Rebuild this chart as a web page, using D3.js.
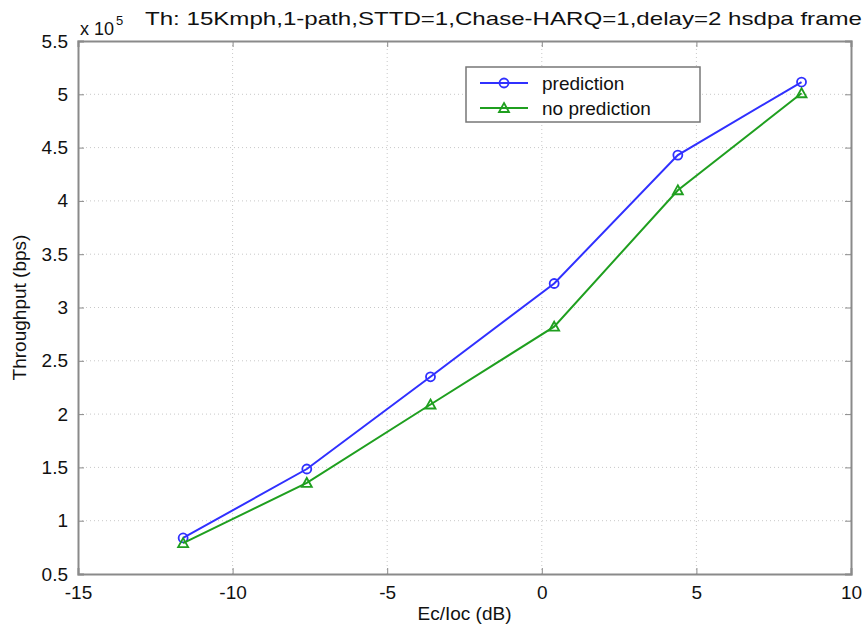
<!DOCTYPE html>
<html><head><meta charset="utf-8">
<script src="https://cdn.jsdelivr.net/npm/d3@7"></script>
<style>body{margin:0;background:#fff}svg{display:block;font-family:Arial,"Liberation Sans",sans-serif}</style>
</head><body><svg id="c" width="865" height="627"></svg>
<script>
const xValues = [-11.6, -7.6, -3.6, 0.4, 4.4, 8.4];
const prediction = [0.838, 1.485, 2.35, 3.225, 4.43, 5.115];
const noPrediction = [0.79, 1.354, 2.09, 2.82, 4.10, 5.01];
const xTicks = [-15, -10, -5, 0, 5, 10];
const yTicks = [0.5, 1, 1.5, 2, 2.5, 3, 3.5, 4, 4.5, 5, 5.5];
const seriesNames = ["prediction", "no prediction"];
const seriesColors = ["#3030ff", "#1f9f1f"];
const titleText = "Th: 15Kmph,1-path,STTD=1,Chase-HARQ=1,delay=2 hsdpa frame";

const svg = d3.select("#c");
const L = 78, R = 851, T = 41, B = 574;
const x = d3.scaleLinear().domain([-15, 10]).range([L, R]);
const y = d3.scaleLinear().domain([0.5, 5.5]).range([B, T]);

// grid
const g = svg.append("g");
g.selectAll(".gx").data(xTicks.slice(1, -1)).enter().append("line")
  .attr("x1", d => x(d)).attr("x2", d => x(d)).attr("y1", T).attr("y2", B)
  .attr("stroke", "#c8c8c8").attr("stroke-width", 1).attr("stroke-dasharray", "1,3");
g.selectAll(".gy").data(yTicks.slice(1, -1)).enter().append("line")
  .attr("y1", d => y(d)).attr("y2", d => y(d)).attr("x1", L).attr("x2", R)
  .attr("stroke", "#c8c8c8").attr("stroke-width", 1).attr("stroke-dasharray", "1,3");

// axes
const axB = d3.axisBottom(x).tickValues(xTicks).tickSize(-6).tickPadding(12).tickFormat(d => String(d));
const axL = d3.axisLeft(y).tickValues(yTicks).tickSize(-6).tickPadding(10).tickFormat(d => String(d));
const axT = d3.axisTop(x).tickValues(xTicks).tickSize(-6).tickFormat("");
const axR = d3.axisRight(y).tickValues(yTicks).tickSize(-6).tickFormat("");
function style(sel) {
  sel.selectAll("path").attr("stroke", "#8a8a8a").attr("stroke-width", 2);
  sel.selectAll("line").attr("stroke", "#8a8a8a").attr("stroke-width", 1);
  sel.selectAll("text").attr("fill", "#111").style("font-size", "19px").style("font-family", "Arial, 'Liberation Sans', sans-serif");
}
svg.append("g").attr("transform", `translate(0,${B})`).call(axB).call(style);
svg.append("g").attr("transform", `translate(${L},0)`).call(axL).call(style);
svg.append("g").attr("transform", `translate(0,${T})`).call(axT).call(style);
svg.append("g").attr("transform", `translate(${R},0)`).call(axR).call(style);

// series
const data = [prediction, noPrediction];
const line = d3.line().x((d, i) => x(xValues[i])).y(d => y(d));
data.forEach((vals, si) => {
  svg.append("path").datum(vals).attr("d", line).attr("fill", "none")
    .attr("stroke", seriesColors[si]).attr("stroke-width", 2);
  const pts = svg.append("g").selectAll("g").data(vals).enter().append("g")
    .attr("transform", (d, i) => `translate(${x(xValues[i])},${y(d)})`);
  if (si === 0) {
    pts.append("circle").attr("r", 4.5).attr("fill", "none").attr("stroke", seriesColors[si]).attr("stroke-width", 1.8);
  } else {
    pts.append("path").attr("d", "M0,-5L5,4L-5,4Z").attr("fill", "none").attr("stroke", seriesColors[si]).attr("stroke-width", 1.8);
  }
});

// legend
const lg = svg.append("g");
lg.append("rect").attr("x", 466).attr("y", 67).attr("width", 234).attr("height", 55)
  .attr("fill", "#fff").attr("stroke", "#777").attr("stroke-width", 1.5);
seriesNames.forEach((n, i) => {
  const yy = 83 + i * 25;
  lg.append("line").attr("x1", 480).attr("x2", 528).attr("y1", yy).attr("y2", yy)
    .attr("stroke", seriesColors[i]).attr("stroke-width", 2);
  if (i === 0) lg.append("circle").attr("cx", 504).attr("cy", yy).attr("r", 4.5).attr("fill", "none").attr("stroke", seriesColors[i]).attr("stroke-width", 1.8);
  else lg.append("path").attr("transform", `translate(504,${yy})`).attr("d", "M0,-5L5,4L-5,4Z").attr("fill", "none").attr("stroke", seriesColors[i]).attr("stroke-width", 1.8);
  lg.append("text").attr("x", 542).attr("y", yy + 7).text(n).style("font-size", "19px").attr("fill", "#111");
});

// title and labels
svg.append("text").attr("x", 145).attr("y", 25).text(titleText).style("font-size", "19px").attr("fill", "#111")
  .attr("textLength", 717).attr("lengthAdjust", "spacingAndGlyphs");
const ex = svg.append("text").attr("x", 80).attr("y", 35).style("font-size", "18px").attr("fill", "#111");
ex.append("tspan").text("x 10");
ex.append("tspan").attr("dx", 2).attr("dy", -10).style("font-size", "13px").text("5");
svg.append("text").attr("x", (L + R) / 2).attr("y", 620).attr("text-anchor", "middle").text("Ec/Ioc (dB)")
  .style("font-size", "19px").attr("fill", "#111");
svg.append("text").attr("transform", `translate(26,${(T + B) / 2}) rotate(-90)`).attr("text-anchor", "middle")
  .text("Throughput (bps)").style("font-size", "19px").attr("fill", "#111");
</script></body></html>
